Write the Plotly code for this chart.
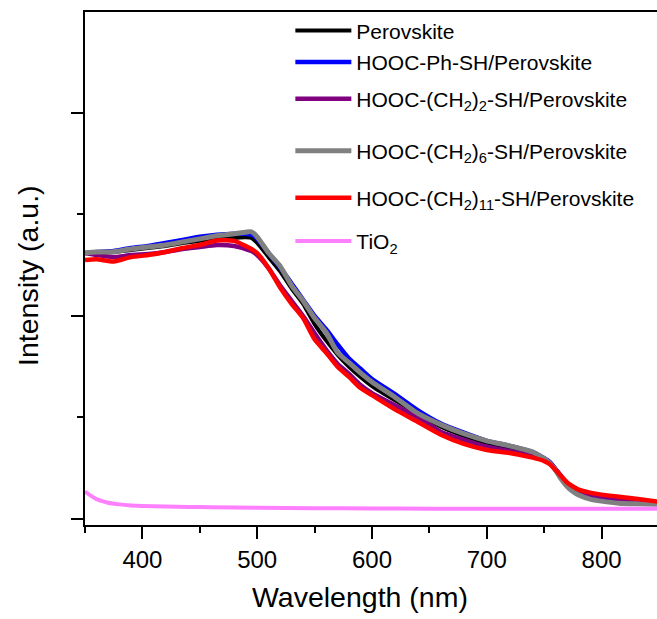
import plotly.graph_objects as go

# Wavelength grid (nm) for the perovskite PL spectra
wl = [350, 360, 375, 390, 405, 420, 435, 450, 465, 480, 490, 495, 500, 510, 520, 530,
      540, 550, 560, 570, 580, 590, 600, 620, 640, 660, 680, 700, 720, 740, 750, 755,
      760, 765, 770, 775, 780, 790, 800, 815, 830, 850]

perovskite = [1.31, 1.31, 1.315, 1.325, 1.335, 1.345, 1.36, 1.37, 1.38, 1.385, 1.388, 1.385,
              1.36, 1.29, 1.22, 1.135, 1.06, 0.96, 0.88, 0.81, 0.75, 0.70, 0.655, 0.585,
              0.52, 0.455, 0.41, 0.375, 0.35, 0.325, 0.297, 0.28, 0.245, 0.205, 0.17, 0.145,
              0.128, 0.108, 0.098, 0.088, 0.082, 0.076]

ph_sh = [1.31, 1.315, 1.32, 1.335, 1.345, 1.36, 1.375, 1.39, 1.40, 1.405, 1.405, 1.40,
         1.38, 1.31, 1.24, 1.16, 1.08, 1.0, 0.935, 0.86, 0.79, 0.74, 0.69, 0.615, 0.535,
         0.47, 0.425, 0.385, 0.36, 0.33, 0.30, 0.28, 0.245, 0.205, 0.17, 0.145, 0.125,
         0.105, 0.095, 0.085, 0.08, 0.075]

ch2_2 = [1.31, 1.30, 1.29, 1.30, 1.305, 1.315, 1.33, 1.34, 1.35, 1.345, 1.33, 1.32,
         1.30, 1.235, 1.15, 1.075, 1.0, 0.915, 0.835, 0.765, 0.715, 0.66, 0.62, 0.56,
         0.50, 0.43, 0.39, 0.356, 0.335, 0.31, 0.29, 0.275, 0.245, 0.21, 0.175, 0.15,
         0.135, 0.12, 0.11, 0.10, 0.092, 0.08]

ch2_6 = [1.31, 1.315, 1.317, 1.33, 1.34, 1.35, 1.365, 1.38, 1.395, 1.405, 1.413, 1.415,
         1.39, 1.31, 1.245, 1.15, 1.075, 0.99, 0.92, 0.82, 0.77, 0.72, 0.675, 0.60,
         0.52, 0.465, 0.42, 0.385, 0.36, 0.33, 0.298, 0.275, 0.24, 0.195, 0.16, 0.135,
         0.118, 0.098, 0.088, 0.078, 0.075, 0.073]

ch2_11 = [1.276, 1.28, 1.268, 1.29, 1.30, 1.315, 1.335, 1.35, 1.372, 1.37, 1.345, 1.33,
          1.31, 1.235, 1.14, 1.06, 0.99, 0.885, 0.82, 0.75, 0.70, 0.645, 0.61, 0.54,
          0.478, 0.415, 0.37, 0.34, 0.325, 0.302, 0.285, 0.27, 0.24, 0.21, 0.18, 0.16,
          0.145, 0.13, 0.12, 0.11, 0.10, 0.085]

wl_tio2 = [350, 355, 360, 365, 370, 380, 390, 400, 420, 440, 460, 500, 550, 600, 650,
           700, 750, 800, 850]
tio2 = [0.135, 0.115, 0.098, 0.088, 0.08, 0.072, 0.067, 0.064, 0.061, 0.059, 0.058,
        0.055, 0.053, 0.052, 0.051, 0.05, 0.05, 0.05, 0.05]

names = [
    "Perovskite",
    "HOOC-Ph-SH/Perovskite",
    "HOOC-(CH<sub>2</sub>)<sub>2</sub>-SH/Perovskite",
    "HOOC-(CH<sub>2</sub>)<sub>6</sub>-SH/Perovskite",
    "HOOC-(CH<sub>2</sub>)<sub>11</sub>-SH/Perovskite",
    "TiO<sub>2</sub>",
]
xs = [wl, wl, wl, wl, wl, wl_tio2]
ys = [perovskite, ph_sh, ch2_2, ch2_6, ch2_11, tio2]
colors = ["#000000", "#0000FF", "#800080", "#808080", "#FF0000", "#FF80FF"]
widths = [4, 4.5, 4.5, 5, 4.5, 4]
# legend row tops (paper y) for each entry
legend_y = [1.003, 0.942, 0.870, 0.769, 0.677, 0.593]

FONT = "Liberation Sans, Arial, sans-serif"

fig = go.Figure()
legend_layout = {}
for i in range(len(names)):
    lg = "legend" if i == 0 else "legend%d" % (i + 1)
    fig.add_trace(go.Scatter(x=xs[i], y=ys[i], mode="lines", name=names[i],
                             legend=lg,
                             line=dict(color=colors[i], width=widths[i],
                                       shape="spline", smoothing=0.6)))
    legend_layout[lg] = dict(x=0.359, y=legend_y[i], xanchor="left", yanchor="top",
                             bgcolor="rgba(0,0,0,0)", font=dict(size=21, family=FONT),
                             itemwidth=56)

fig.update_layout(
    width=657, height=619,
    margin=dict(l=85, r=0, t=12, b=94),
    paper_bgcolor="white", plot_bgcolor="white",
    font=dict(family=FONT, color="black"),
    showlegend=True,
    xaxis=dict(range=[350, 848.3], showgrid=False, zeroline=False,
               showline=True, linecolor="black", linewidth=2, mirror=True,
               ticks="outside", ticklen=12, tickwidth=2, tickcolor="black",
               tick0=0, dtick=100, tickfont=dict(size=24),
               minor=dict(ticks="outside", ticklen=6, tickwidth=2, tickcolor="black", dtick=50)),
    yaxis=dict(range=[-0.0296, 2.4975], showgrid=False, zeroline=False,
               showline=True, linecolor="black", linewidth=2,
               ticks="outside", ticklen=12, tickwidth=2, tickcolor="black",
               tick0=0, dtick=1, showticklabels=False,
               minor=dict(ticks="outside", ticklen=6, tickwidth=2, tickcolor="black", dtick=0.5)),
    annotations=[
        dict(text="Wavelength (nm)", xref="paper", yref="paper", x=0.481, y=-0.1404,
             xanchor="center", yanchor="middle", showarrow=False,
             font=dict(size=28.5, family=FONT, color="black")),
        dict(text="Intensity (a.u.)", xref="paper", yref="paper", x=-0.0997, y=0.4873,
             xanchor="center", yanchor="middle", showarrow=False, textangle=-90,
             font=dict(size=28.5, family=FONT, color="black")),
    ],
    **legend_layout,
)

fig.write_html("out.html")
